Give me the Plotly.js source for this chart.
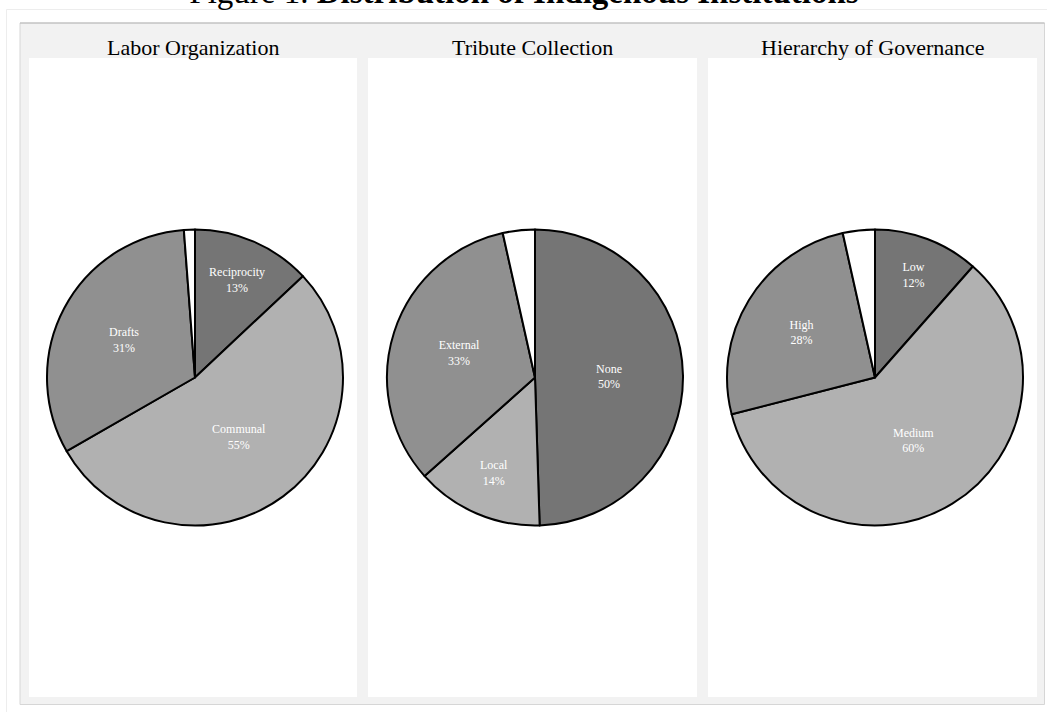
<!DOCTYPE html>
<html>
<head>
<meta charset="utf-8">
<script src="https://cdn.plot.ly/plotly-3.0.1.min.js"></script>
<style>
  html, body { margin: 0; padding: 0; background: #ffffff; }
  #chart { width: 1047px; height: 712px; }
</style>
</head>
<body>
<div id="chart"></div>
<script>
// ---- data ----
const panelTitles = ["Labor Organization", "Tribute Collection", "Hierarchy of Governance"];

const laborLabels = ["Reciprocity", "Communal", "Drafts", "NA"];
const laborShares = [13.0, 53.7, 32.1, 1.2];
const laborPctText = ["13%", "55%", "31%", ""];

const tributeLabels = ["None", "Local", "External", "NA"];
const tributeShares = [49.5, 13.9, 33.1, 3.5];
const tributePctText = ["50%", "14%", "33%", ""];

const hierLabels = ["Low", "Medium", "High", "NA"];
const hierShares = [11.5, 59.5, 25.5, 3.5];
const hierPctText = ["12%", "60%", "28%", ""];

const sliceColors = ["#757575", "#b1b1b1", "#909090", "#ffffff"];

// ---- layout helpers (pixel -> paper) ----
const W = 1047, H = 712;
const X = px => px / W;
const Y = py => 1 - py / H;

const panels = [
  { x0: 29, x1: 357, cx: 195 },
  { x0: 368, x1: 697, cx: 535 },
  { x0: 708, x1: 1037, cx: 875 }
];
const panelTop = 58, panelBottom = 697;
const pieR = 148;

const datasets = [
  [laborLabels, laborShares, laborPctText],
  [tributeLabels, tributeShares, tributePctText],
  [hierLabels, hierShares, hierPctText]
];

const traces = datasets.map((d, i) => {
  const [labels, shares, pcts] = d;
  const text = labels.map((l, k) => pcts[k] === "" ? "" : l + "<br>" + pcts[k]);
  return {
    type: "pie",
    labels: labels,
    values: shares,
    text: text,
    textinfo: "text",
    textposition: "inside",
    insidetextorientation: "horizontal",
    sort: false,
    direction: "clockwise",
    rotation: 0,
    hoverinfo: "skip",
    showlegend: false,
    marker: { colors: sliceColors, line: { color: "#000000", width: 2 } },
    textfont: { family: "Liberation Serif, Times New Roman, serif", size: 12, color: "#ffffff" },
    domain: {
      x: [X(panels[i].cx - pieR), X(panels[i].cx + pieR)],
      y: [Y(panelBottom), Y(panelTop)]
    }
  };
});

const shapes = [
  // faint outer frame
  { type: "rect", xref: "paper", yref: "paper", x0: X(6.5), x1: X(1070), y0: Y(9.5), y1: Y(740),
    line: { color: "#ededed", width: 1 }, fillcolor: "rgba(0,0,0,0)", layer: "below" },
  // gray facet background
  { type: "rect", xref: "paper", yref: "paper", x0: X(20), x1: X(1044.5), y0: Y(704.5), y1: Y(23),
    line: { color: "#d6d6d6", width: 1 }, fillcolor: "#f2f2f2", layer: "below" },
  // darker top edge
  { type: "line", xref: "paper", yref: "paper", x0: X(20), x1: X(1044.5), y0: Y(23), y1: Y(23),
    line: { color: "#b8b8b8", width: 1 }, layer: "below" }
];
panels.forEach(p => {
  shapes.push({ type: "rect", xref: "paper", yref: "paper", x0: X(p.x0), x1: X(p.x1),
    y0: Y(panelBottom), y1: Y(panelTop), line: { width: 0 }, fillcolor: "#ffffff", layer: "below" });
});

const annotations = panelTitles.map((t, i) => ({
  text: t, xref: "paper", yref: "paper",
  x: X((panels[i].x0 + panels[i].x1) / 2), y: Y(47),
  xanchor: "center", yanchor: "middle", showarrow: false,
  font: { family: "Liberation Serif, Times New Roman, serif", size: 22, color: "#000000" }
}));

const layout = {
  width: W, height: H,
  margin: { l: 0, r: 0, t: 0, b: 0 },
  paper_bgcolor: "#ffffff",
  plot_bgcolor: "#ffffff",
  title: {
    text: "Figure 1. <b>Distribution of Indigenous Institutions</b>",
    font: { family: "Liberation Serif, Times New Roman, serif", size: 33, color: "#000000" },
    xref: "paper", x: X(524), xanchor: "center",
    yref: "container", y: 1 - 3 / H, yanchor: "bottom"
  },
  shapes: shapes,
  annotations: annotations
};

Plotly.newPlot("chart", traces, layout, { displayModeBar: false, staticPlot: true });
</script>
</body>
</html>
